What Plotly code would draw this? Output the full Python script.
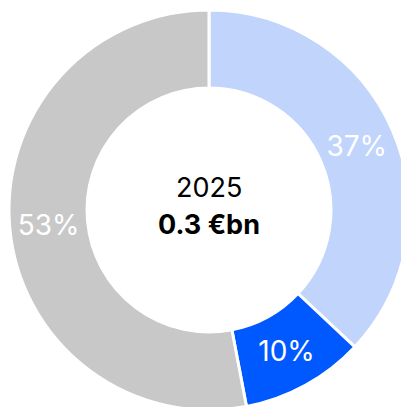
import plotly.graph_objects as go

# Share of the 2025 total by segment
segments = ["Segment A", "Segment B", "Segment C"]
shares = [37, 10, 53]
colors = ["#C0D4FC", "#0058FF", "#C8C8C8"]

year_label = "2025"
total_label = "0.3 €bn"

W, H = 424, 420
cx, cy, r = 209, 210, 200

fig = go.Figure(
    go.Pie(
        labels=segments,
        values=shares,
        sort=False,
        direction="clockwise",
        rotation=0,
        hole=0.61,
        marker=dict(colors=colors, line=dict(color="white", width=3)),
        texttemplate="%{value}%",
        textposition="inside",
        insidetextorientation="horizontal",
        textfont=dict(family="Inter", size=28, color="white"),
        hoverinfo="label+percent",
        showlegend=False,
        domain=dict(
            x=[(cx - r) / W, (cx + r) / W],
            y=[(H - cy - r) / H, (H - cy + r) / H],
        ),
    )
)

fig.add_annotation(
    x=cx / W, y=(H - 187) / H, xref="paper", yref="paper",
    text=year_label, showarrow=False,
    font=dict(family="Inter", size=27, color="black"),
)
fig.add_annotation(
    x=cx / W, y=(H - 224) / H, xref="paper", yref="paper",
    text=f"<b>{total_label}</b>", showarrow=False,
    font=dict(family="Inter", size=27, color="black"),
)

fig.update_layout(
    width=W, height=H,
    margin=dict(l=0, r=0, t=0, b=0),
    paper_bgcolor="white",
    plot_bgcolor="white",
)

fig.write_html(
    "out.html",
    config={"displayModeBar": False},
    post_script="document.documentElement.style.overflow='hidden';document.body.style.overflow='hidden';document.body.style.margin='0';",
)
